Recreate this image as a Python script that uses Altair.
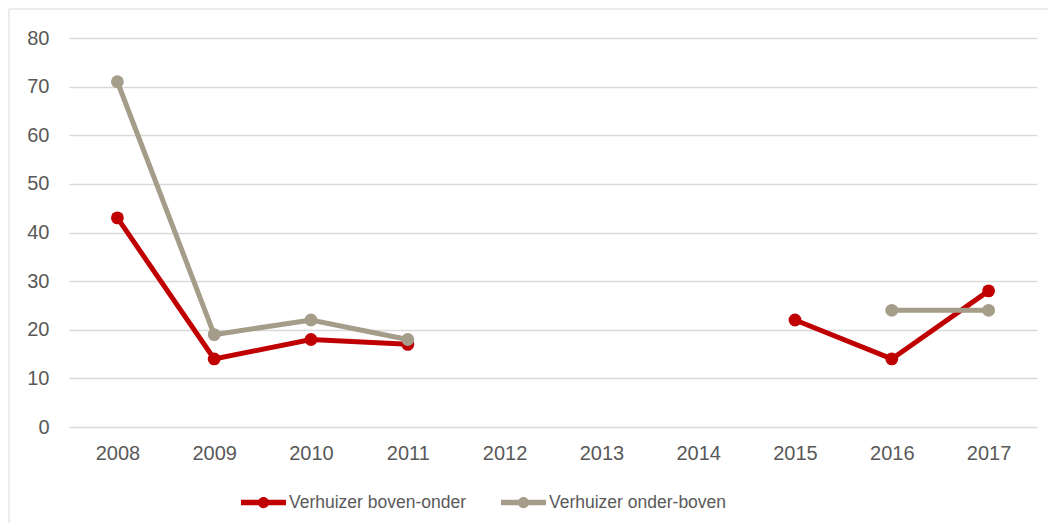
import altair as alt
import pandas as pd

years = ["2008", "2009", "2010", "2011", "2012", "2013", "2014", "2015", "2016", "2017"]
boven_onder = [43, 14, 18, 17, None, None, None, 22, 14, 28]
onder_boven = [71, 19, 22, 18, None, None, None, None, 24, 24]
series_names = ["Verhuizer boven-onder", "Verhuizer onder-boven"]
series_colors = ["#C00000", "#A59C89"]
y_ticks = [0, 10, 20, 30, 40, 50, 60, 70, 80]

rows = []
for name, vals in zip(series_names, [boven_onder, onder_boven]):
    for yr, v in zip(years, vals):
        rows.append({"jaar": yr, "waarde": v, "reeks": name})
df = pd.DataFrame(rows)

PLOT_W, PLOT_H = 968, 389
FONT = "Liberation Sans"
TXT = "#595959"
GRID = "#D9D9D9"

legend_symbol = (
    "M-1,-0.12 L1,-0.12 L1,0.12 L-1,0.12 Z "
    "M-0.25,0 A0.25,0.25 0 1,1 0.25,0 A0.25,0.25 0 1,1 -0.25,0 Z"
)

x_enc = alt.X(
    "jaar:O",
    sort=years,
    scale=alt.Scale(domain=years, paddingOuter=0.5),
    axis=alt.Axis(
        title=None, labelAngle=0, ticks=False, domain=False, grid=False,
        labelFont=FONT, labelFontSize=20, labelColor=TXT, labelPadding=16,
    ),
)
y_enc = alt.Y(
    "waarde:Q",
    scale=alt.Scale(domain=[0, 80], nice=False, zero=True),
    axis=alt.Axis(
        title=None, values=y_ticks, ticks=False, domain=False, grid=True,
        gridColor=GRID, gridWidth=1.5,
        labelFont=FONT, labelFontSize=20, labelColor=TXT, labelPadding=20,
    ),
)
color_scale = alt.Scale(domain=series_names, range=series_colors)

lines = alt.Chart(df).mark_line(
    strokeWidth=5, invalid="break-paths-filter-domains"
).encode(
    x=x_enc, y=y_enc,
    color=alt.Color("reeks:N", scale=color_scale, legend=None),
)

points = alt.Chart(df).transform_filter(
    "isValid(datum.waarde)"
).mark_circle(size=165, opacity=1).encode(
    x=x_enc, y=y_enc,
    color=alt.Color(
        "reeks:N", scale=color_scale,
        legend=alt.Legend(
            title=None, orient="none", direction="horizontal",
            legendX=172, legendY=442,
            symbolType=legend_symbol, symbolSize=2025, symbolStrokeWidth=0,
            labelFont=FONT, labelFontSize=17.5, labelColor=TXT, labelLimit=500,
            labelOffset=3, columnPadding=34, padding=0, symbolOpacity=1,
        ),
    ),
    order=alt.Order("reeks:N"),
)

border = alt.Chart(alt.Data(values=[{}])).mark_rect(
    filled=False, stroke=GRID, strokeWidth=1
).encode(
    x=alt.value(-60), x2=alt.value(1200), y=alt.value(-29), y2=alt.value(700)
)

chart = alt.layer(border, lines, points).resolve_legend(
    color="independent"
).properties(
    width=PLOT_W, height=PLOT_H,
    background="white",
    padding={"left": 61, "top": 30, "right": 11, "bottom": 96},
    autosize=alt.AutoSizeParams(type="none"),
).configure_view(stroke=None)

chart.save("out.html", embed_options={"renderer": "svg", "actions": False})
